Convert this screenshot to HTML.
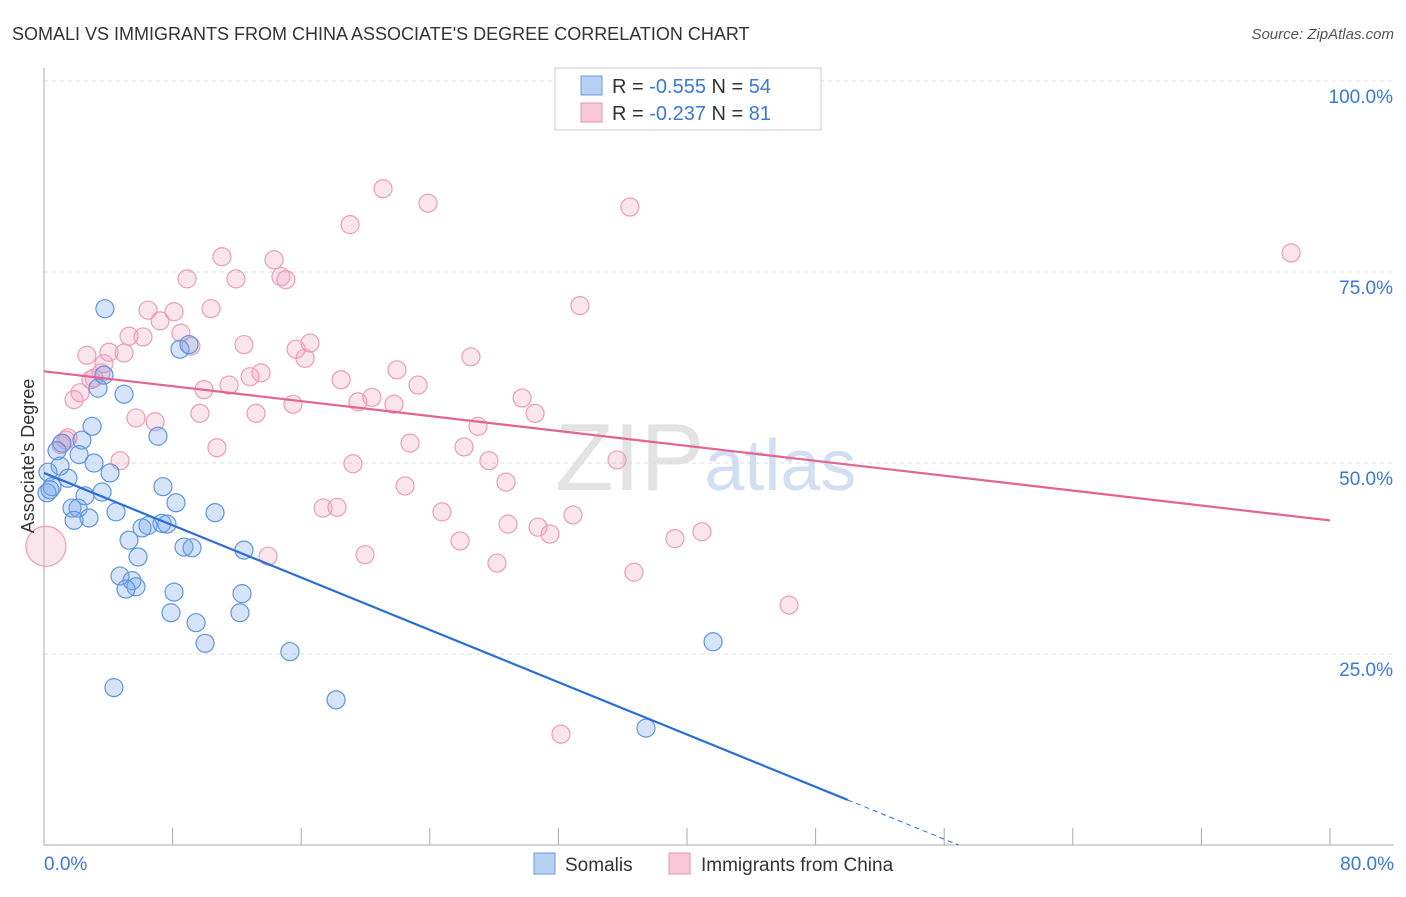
<!DOCTYPE html>
<html><head><meta charset="utf-8"><style>
body{margin:0;background:#fff;font-family:"Liberation Sans",sans-serif;}
svg text{font-family:"Liberation Sans",sans-serif;}
</style></head><body>
<svg id="chart" width="1406" height="892" xmlns="http://www.w3.org/2000/svg">
<text x="12" y="40" font-size="18" fill="#333">SOMALI VS IMMIGRANTS FROM CHINA ASSOCIATE'S DEGREE CORRELATION CHART</text>
<text x="1394" y="39" font-size="15" fill="#555" font-style="italic" text-anchor="end">Source: ZipAtlas.com</text>
<g id="grid"></g>
<text x="555" y="490" font-size="96" fill="#ddd" font-family="Liberation Serif" opacity="0.8">ZIP<tspan fill="#c8d8f0" font-family="Liberation Sans" font-size="72">atlas</tspan></text>
<g id="pts"></g>
<g id="trends"></g>
<text transform="translate(34,456) rotate(-90)" font-size="18" fill="#333" text-anchor="middle">Associate's Degree</text>
<g>
<rect x="555" y="68" width="266" height="62" fill="#fff" stroke="#ccc"/>
<rect x="581" y="76" width="21" height="19" fill="#b8d0f4" stroke="#6a9ae0"/>
<rect x="581" y="103" width="21" height="19" fill="#f8c8d8" stroke="#e890b0"/>
<text x="612" y="93" font-size="20" fill="#333">R = <tspan fill="#3a78d8">-0.555</tspan>   N = <tspan fill="#3a78d8">54</tspan></text>
<text x="612" y="120" font-size="20" fill="#333">R = <tspan fill="#3a78d8">-0.237</tspan>   N = <tspan fill="#3a78d8"> 81</tspan></text>
</g>
<g>
<rect x="534" y="853" width="21" height="21" fill="#b8d0f4" stroke="#6a9ae0"/>
<text x="565" y="871" font-size="19" fill="#333">Somalis</text>
<rect x="669" y="853" width="21" height="21" fill="#f8c8d8" stroke="#e890b0"/>
<text x="701" y="871" font-size="19" fill="#333">Immigrants from China</text>
</g>
</svg>
<script>
const yTicks=[100,75,50,25];
const yTickLabels=["100.0%","75.0%","50.0%","25.0%"];
const xTicks=[0,8,16,24,32,40,48,56,64,72,80];
const xTickLabels=["0.0%","80.0%"];
const somaliX=[3.79,8.46,9.02,3.36,4.98,3.73,2.99,7.09,2.36,1.12,0.81,2.18,3.11,4.11,1.0,0.25,1.49,0.5,0.19,2.55,3.61,7.40,8.21,1.74,2.12,4.48,2.80,1.87,10.64,6.47,6.10,7.34,7.65,5.29,8.71,9.21,12.44,5.85,4.73,5.47,5.72,5.10,8.09,12.32,7.90,12.19,9.46,10.02,15.30,4.35,18.17,41.62,37.45,0.37];
const somaliY=[70.2,64.9,65.5,59.8,59.0,61.5,54.8,53.5,53.0,52.6,51.6,51.1,50.0,48.7,49.6,48.8,48.0,46.9,46.1,45.7,46.2,46.9,44.8,44.1,44.1,43.6,42.8,42.5,43.5,41.8,41.5,42.1,42.0,39.9,39.0,38.9,38.6,37.7,35.2,34.6,33.8,33.5,33.1,32.9,30.4,30.4,29.1,26.4,25.3,20.6,19.0,26.6,15.3,46.5];
const chinaX=[21.09,23.89,36.45,19.04,77.58,11.07,14.31,8.90,11.94,14.74,15.05,33.34,6.47,8.09,10.39,7.22,8.52,5.29,6.16,9.14,12.44,16.55,15.68,16.24,2.67,4.04,4.98,3.73,26.56,21.96,13.50,12.82,3.55,2.92,3.11,18.48,11.51,9.95,23.27,20.40,19.53,21.77,15.49,29.74,2.24,1.87,30.55,9.70,13.19,5.72,6.91,27.0,1.49,1.06,22.77,10.76,26.13,4.73,27.68,35.65,19.22,28.74,22.46,17.36,18.23,24.76,32.91,28.87,30.73,25.88,31.48,40.93,39.25,13.94,19.97,28.18,36.70,46.35,32.16,0.12,1.37];
const chinaY=[85.9,84.0,83.5,81.2,77.5,77.0,76.6,74.1,74.1,74.4,74.0,70.6,70.0,69.8,70.2,68.6,67.0,66.6,66.5,65.3,65.5,65.7,64.9,63.7,64.1,64.5,64.4,63.0,63.9,62.2,61.8,61.3,61.8,60.9,61.1,60.9,60.2,59.6,60.2,58.6,58.0,57.7,57.7,58.5,59.2,58.3,56.5,56.5,56.5,55.9,55.4,54.8,53.3,52.4,52.6,52.0,52.1,50.3,50.3,50.4,49.9,47.5,47.0,44.1,44.2,43.6,43.2,42.0,41.6,39.8,40.7,41.0,40.1,37.8,38.0,36.9,35.7,31.4,14.5,39.1,53.0];
const chinaR=chinaX.map((v,i)=>i===79?20:9);
const somaliTrend=[48.7,-0.856]; // intercept, slope
const chinaTrend=[62.0,-0.244];
const X=v=>44+v/80*1286, Y=v=>845-v/100*764;
const NS="http://www.w3.org/2000/svg";
function mk(tag,attrs,parent){const e=document.createElementNS(NS,tag);for(const k in attrs)e.setAttribute(k,attrs[k]);parent.appendChild(e);return e;}
const grid=document.getElementById('grid');
yTicks.forEach((t,i)=>{
 const l=mk('line',{x1:44,x2:1394,y1:Y(t),y2:Y(t),stroke:'#ddd','stroke-dasharray':'4,4'},grid);
 
 
 const tx=mk('text',{x:1393,y:Y(t)+22,'font-size':19,fill:'#3a78d8','text-anchor':'end'},grid);
 tx.textContent=yTickLabels[i];
 
 
});
const ax=mk('line',{x1:44,x2:44,y1:68,y2:845,stroke:'#aaa'},grid);


const bx=mk('line',{x1:44,x2:1394,y1:845,y2:845,stroke:'#aaa'},grid);


xTicks.forEach(t=>{const l=mk('line',{x1:X(t),x2:X(t),y1:828,y2:845,stroke:'#aaa'},grid);
 
 });
[[0,xTickLabels[0],'start',44],[80,xTickLabels[1],'end',1394]].forEach(a=>{
 const tx=mk('text',{x:a[3],y:870,'font-size':19,fill:'#3a78d8','text-anchor':a[2]},grid);tx.textContent=a[1];
 
 });
const pts=document.getElementById('pts');
chinaX.forEach((v,i)=>{const c=mk('circle',{cx:X(v),cy:Y(chinaY[i]),r:chinaR[i],fill:'rgba(242,160,190,0.28)',stroke:'#eb9cb8','stroke-width':1.2},pts);
 
 });
somaliX.forEach((v,i)=>{const c=mk('circle',{cx:X(v),cy:Y(somaliY[i]),r:9,fill:'rgba(120,165,235,0.3)',stroke:'#5f95e0','stroke-width':1.2},pts);
 
 });
const tr=document.getElementById('trends');
const f=(t,x)=>t[0]+t[1]*x;
let l=mk('line',{x1:X(0),y1:Y(f(chinaTrend,0)),x2:X(80),y2:Y(f(chinaTrend,80)),stroke:'#e4638f','stroke-width':2.2},tr);


const xEnd=-somaliTrend[0]/somaliTrend[1];
l=mk('line',{x1:X(0),y1:Y(f(somaliTrend,0)),x2:X(50),y2:Y(f(somaliTrend,50)),stroke:'#2a6fd6','stroke-width':2.2},tr);


l=mk('line',{x1:X(50),y1:Y(f(somaliTrend,50)),x2:X(xEnd),y2:Y(0),stroke:'#2a6fd6','stroke-width':1,'stroke-dasharray':'5,4'},tr);


</script>
</body></html>
